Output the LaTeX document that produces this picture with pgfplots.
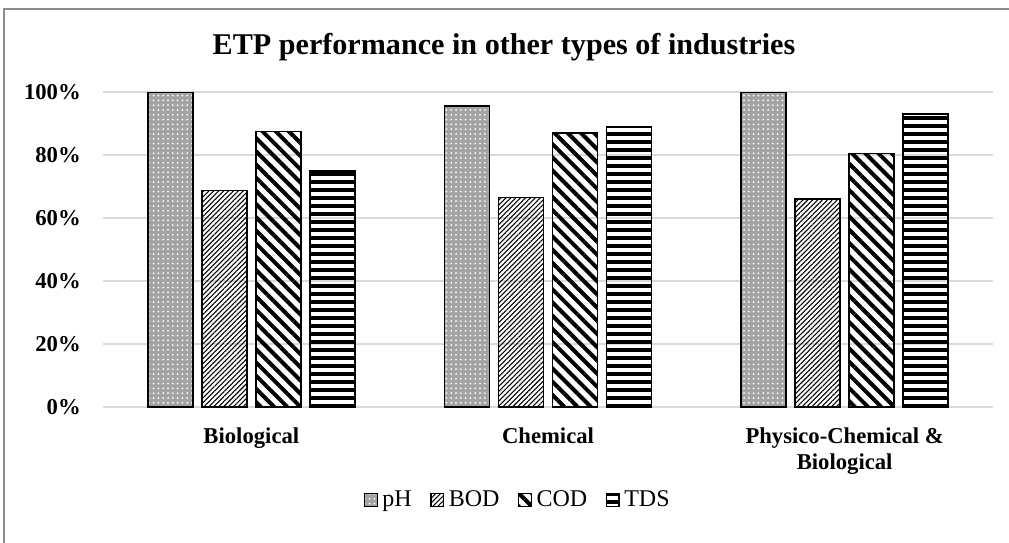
\documentclass[border=0pt]{standalone}
\usepackage{fontspec}
\setmainfont{Liberation Serif}
\usepackage{pgfplots}
\pgfplotsset{compat=1.18}
\usetikzlibrary{patterns.meta}

\pgfplotstableread{
x pH BOD COD TDS
0 100 68.75 87.5 75
1 95.5 66.5 87 89
2 100 66 80.5 93
}\etpdata

\begin{document}
\begin{tikzpicture}[x=0.75pt,y=-0.75pt]
\path[use as bounding box] (0,0) rectangle (1009,542);
\draw[black!45, line width=1.5pt] (4,545) -- (4,9) -- (1012,9);
\node[font=\fontsize{22.6}{26}\selectfont\bfseries] at (504,47) {ETP performance in other types of industries};
\begin{axis}[
  at={(77.25pt,-305.25pt)}, anchor=south west, scale only axis,
  width=667.5pt, height=236.25pt,
  xmin=-0.5, xmax=2.5, ymin=0, ymax=100,
  ybar=6.75pt, bar width=33.75pt,
  axis line style={draw=none},
  major tick length=0pt,
  ymajorgrids, grid style={color=black!15, line width=1.1pt},
  ytick={0,20,40,60,80,100},
  yticklabels={0\%,20\%,40\%,60\%,80\%,100\%},
  yticklabel style={font=\fontsize{17}{20}\selectfont\bfseries, anchor=east, inner sep=0pt, xshift=-16.5pt},
  xtick={0,1,2},
  xticklabels={Biological, Chemical, {Physico-Chemical \&\\Biological}},
  xticklabel style={font=\fontsize{17}{19.5}\selectfont\bfseries, align=center, anchor=north, inner sep=0pt, yshift=-15.5pt},
  legend image code/.code={\draw[#1, line width=0.9pt] (0pt,-4.7pt) rectangle (9.4pt,4.7pt);},
  legend style={at={(0.465,-0.295)}, anchor=center, draw=none, legend columns=4,
    font=\fontsize{18}{21}\selectfont, nodes={inner sep=0pt},
    /tikz/every odd column/.append style={column sep=3.5pt},
    /tikz/every even column/.append style={column sep=14pt}},
  every axis plot/.append style={draw=black, line width=1.3pt},
]
\addplot[fill=black!36, postaction={pattern={Dots[distance=3.6pt, radius=0.75pt]}, pattern color=white}] table[x=x,y=pH] {\etpdata};
\addplot[pattern={Lines[angle=45, distance=2.6pt, line width=0.8pt]}, pattern color=black] table[x=x,y=BOD] {\etpdata};
\addplot[pattern={Lines[angle=-45, distance=7pt, line width=3pt]}, pattern color=black] table[x=x,y=COD] {\etpdata};
\addplot[pattern={Lines[angle=0, distance=6pt, line width=3pt]}, pattern color=black] table[x=x,y=TDS] {\etpdata};
\legend{pH,BOD,COD,TDS}
\end{axis}
\end{tikzpicture}
\end{document}
